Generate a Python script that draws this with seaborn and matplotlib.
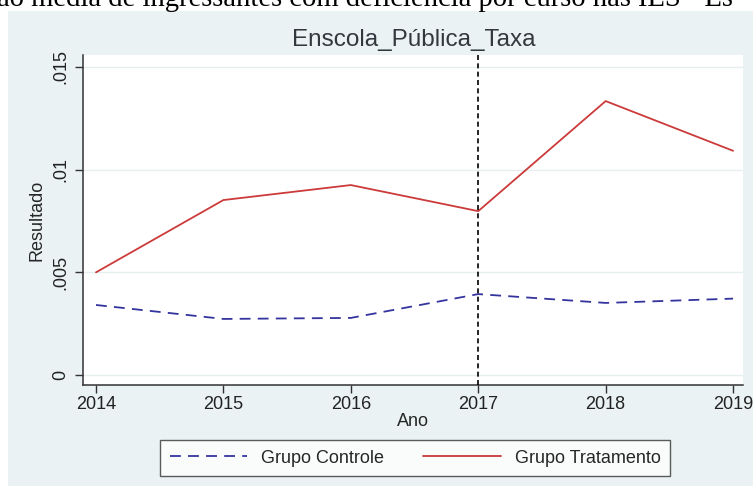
import matplotlib
matplotlib.use("Agg")
import matplotlib.pyplot as plt
from matplotlib.patches import Rectangle
from matplotlib.lines import Line2D
import seaborn as sns
import pandas as pd

anos = [2014, 2015, 2016, 2017, 2018, 2019]
controle = [0.00341, 0.00273, 0.00278, 0.00394, 0.00351, 0.00372]
tratamento = [0.00500, 0.00852, 0.00925, 0.00798, 0.01334, 0.01092]
yticks = [0, 0.005, 0.01, 0.015]
ytick_labels = ["0", ".005", ".01", ".015"]
titulo = "Enscola_Pública_Taxa"
texto_topo = "ão média de ingressantes com deficiência por curso nas IES - Es"

sns.set_style("white")
plt.rcParams["font.family"] = ["Liberation Sans", "DejaVu Sans"]

W, H = 753, 486
fig = plt.figure(figsize=(W / 100, H / 100), dpi=100)
fig.patch.set_facecolor("white")
bg = "#eaf2f3"
fig.add_artist(Rectangle((8 / W, 0), 1 - 8 / W, 1 - 11 / H, transform=fig.transFigure,
                         facecolor=bg, edgecolor="none", zorder=-10))
fig.text(-3 / W, 1 - 6.5 / H, texto_topo, family="Liberation Serif", fontsize=20.6,
         ha="left", va="baseline", color="black")

ax = fig.add_axes([83 / W, 1 - 385 / H, (743 - 83) / W, (385 - 55) / H])
ax.set_facecolor("white")

df = pd.DataFrame({"Ano": anos, "Controle": controle, "Tratamento": tratamento})
blue = "#34349e"
red = "#cc3a3a"
sns.lineplot(data=df, x="Ano", y="Controle", ax=ax, color=blue, lw=1.3,
             linestyle=(0, (6, 4)))
sns.lineplot(data=df, x="Ano", y="Tratamento", ax=ax, color=red, lw=1.3)
ax.axvline(2017, color="black", lw=1.2, linestyle=(0, (3, 2)), zorder=5)

fs = 13
ax.set_xlim(2013.898, 2019.078)
ax.set_ylim(-0.000487, 0.015584)
ax.set_xticks(anos)
ax.set_xticklabels([str(a) for a in anos], fontsize=fs)
ax.set_yticks(yticks)
ax.set_yticklabels(ytick_labels, fontsize=fs, rotation=90, va="center")
for y in yticks:
    ax.axhline(y, color="#e6eeef", lw=1.0, zorder=0)
ax.tick_params(axis="both", direction="out", length=6, width=1, color="#333333",
               colors="#222222", left=True, bottom=True, pad=2)
ax.tick_params(axis="y", pad=4)
for s in ["top", "right"]:
    ax.spines[s].set_visible(False)
for s in ["left", "bottom"]:
    ax.spines[s].set_color("#333333")
    ax.spines[s].set_linewidth(1.1)

ax.set_xlabel("Ano", fontsize=fs, labelpad=0)
ax.set_ylabel("Resultado", fontsize=fs, labelpad=5)
fig.text(414 / W, 1 - 40 / H, titulo, fontsize=17.5, ha="center", va="center", color="#33383f")

handles = [Line2D([], [], color=blue, lw=1.3, linestyle=(0, (6, 4))),
           Line2D([], [], color=red, lw=1.3)]
leg = fig.legend(handles, ["Grupo Controle", "Grupo Tratamento"], ncol=2,
                 loc="center", bbox_to_anchor=(415 / W, 1 - 458 / H),
                 fontsize=fs, frameon=True, fancybox=False, handlelength=4.3,
                 columnspacing=2.2, handletextpad=0.75, borderpad=0.5,
                 borderaxespad=0)
leg.get_frame().set_edgecolor("#333333")
leg.get_frame().set_linewidth(1.0)
leg.get_frame().set_facecolor("white")

fig.savefig("out.png", dpi=100, facecolor=fig.get_facecolor())
